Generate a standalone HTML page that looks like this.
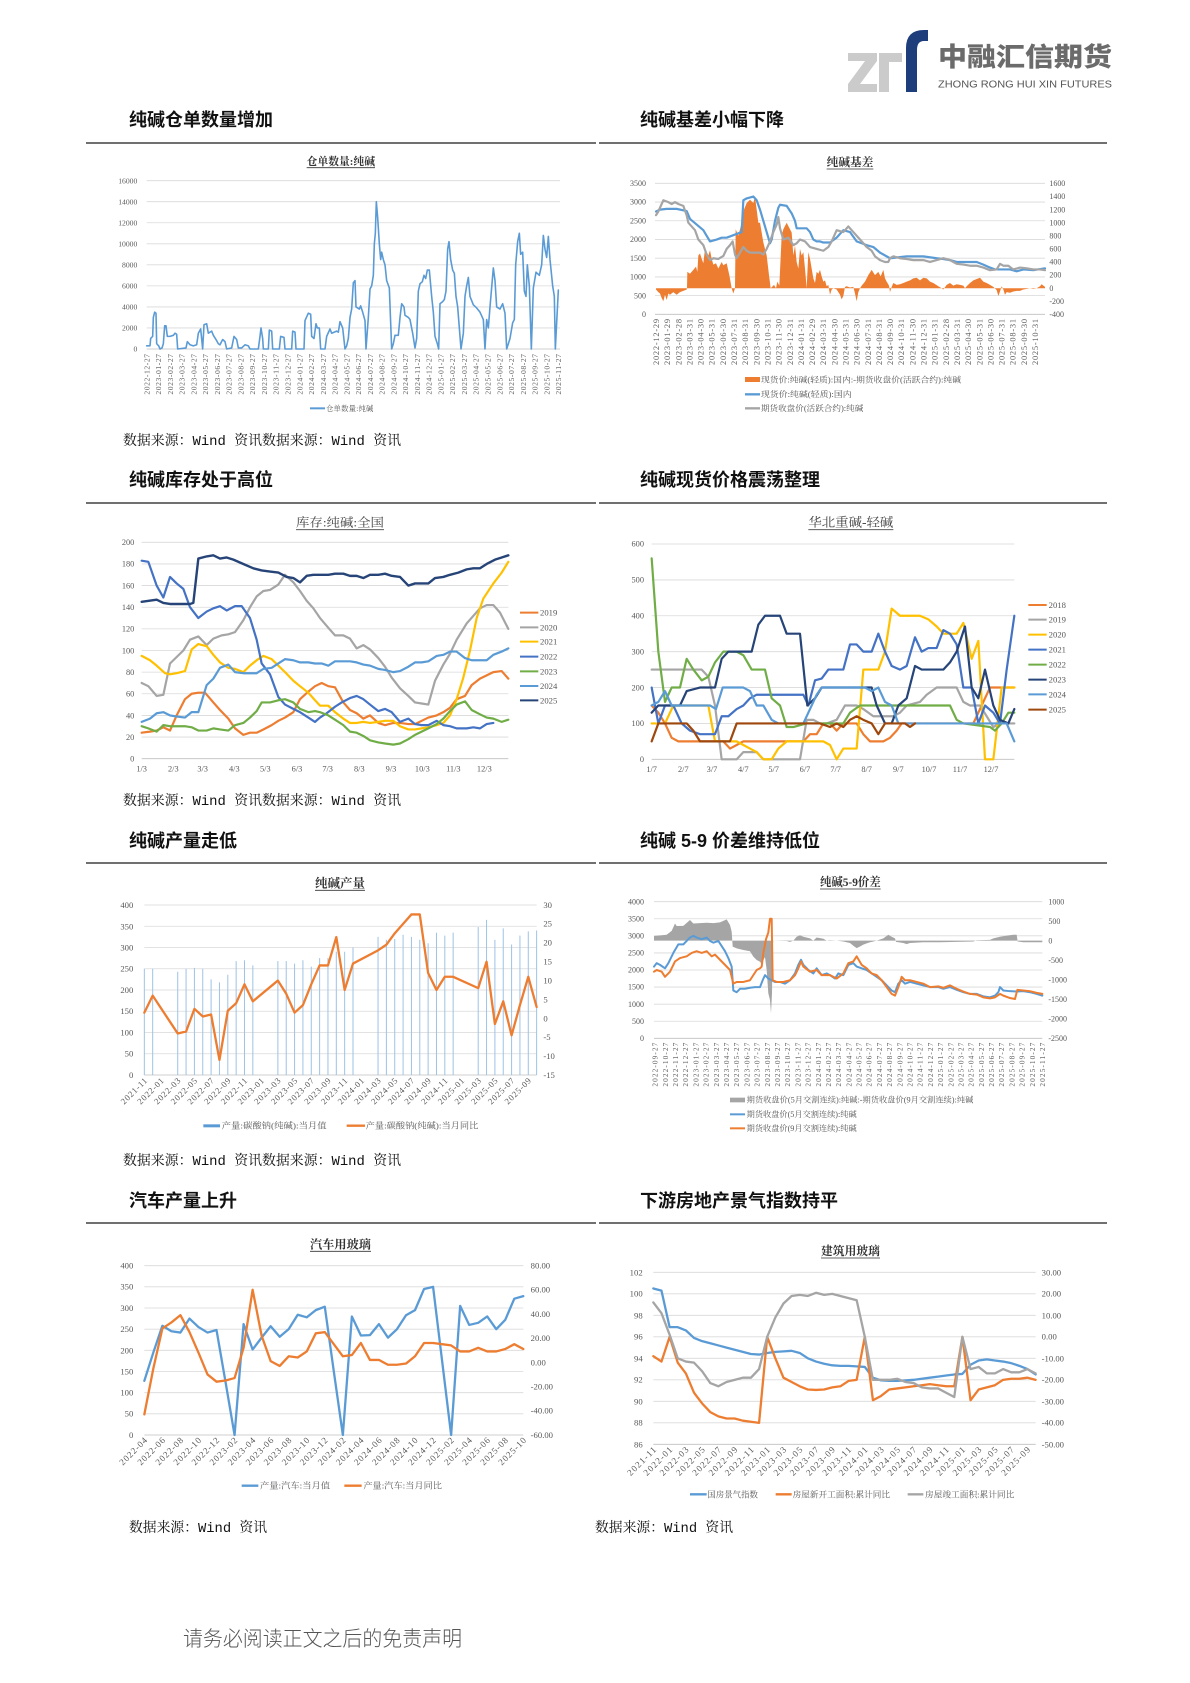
<!DOCTYPE html>
<html><head><meta charset="utf-8"><style>
html,body{margin:0;padding:0;background:#fff;}
svg{display:block;}
.t{font-family:"Liberation Serif","Noto Serif CJK SC",serif;fill:#595959;}
.ttl{font-family:"Liberation Serif","Noto Serif CJK SC",serif;fill:#333;font-weight:bold;}
.ttn{font-family:"Liberation Serif","Noto Serif CJK SC",serif;fill:#444;}
.sec{font-family:"Liberation Sans","Noto Sans CJK SC",sans-serif;font-weight:bold;fill:#111;font-size:18px;}
.src{font-family:"Liberation Mono","Noto Serif CJK SC",serif;fill:#111;font-size:14px;}
.gl{stroke:#d9d9d9;stroke-width:2.5;}
.ln{fill:none;stroke-linejoin:round;stroke-linecap:round;}
</style></head><body>
<svg width="1190" height="1683" viewBox="0 0 1190 1683" xmlns="http://www.w3.org/2000/svg">
<rect width="1190" height="1683" fill="#fff"/>

<!-- LOGO -->
<polygon points="848,53 877,53 877,61 860,84 877,84 877,92 848,92 848,84 865,61 848,61" fill="#cbcbcb"/>
<rect x="879" y="53" width="10" height="39" fill="#cbcbcb"/>
<rect x="889" y="53" width="13" height="9" fill="#cbcbcb"/>
<path d="M906,92 V48 Q906,30 924,30 H928 V41 H924 Q917,41 917,50 V92 Z" fill="#1e3e7b"/>
<text x="938" y="66" font-family="Liberation Sans,'Noto Sans CJK SC',sans-serif" font-weight="900" font-size="26" fill="#6b6b6b" textLength="174" lengthAdjust="spacingAndGlyphs">中融汇信期货</text>
<text x="938" y="87.5" font-family="Liberation Sans,sans-serif" font-size="9.8" fill="#555" textLength="174" lengthAdjust="spacingAndGlyphs">ZHONG RONG HUI XIN FUTURES</text>

<!-- SECTION TITLES & RULES -->
<text class="sec" x="129" y="126">纯碱仓单数量增加</text>
<text class="sec" x="640" y="126">纯碱基差小幅下降</text>
<line x1="86" y1="143" x2="596" y2="143" stroke="#404040" stroke-width="1.4"/>
<line x1="599" y1="143" x2="1107" y2="143" stroke="#404040" stroke-width="1.4"/>
<text class="sec" x="129" y="486">纯碱库存处于高位</text>
<text class="sec" x="640" y="486">纯碱现货价格震荡整理</text>
<line x1="86" y1="503" x2="596" y2="503" stroke="#404040" stroke-width="1.4"/>
<line x1="599" y1="503" x2="1107" y2="503" stroke="#404040" stroke-width="1.4"/>
<text class="sec" x="129" y="847">纯碱产量走低</text>
<text class="sec" x="640" y="847">纯碱 5-9 价差维持低位</text>
<line x1="86" y1="863" x2="596" y2="863" stroke="#404040" stroke-width="1.4"/>
<line x1="599" y1="863" x2="1107" y2="863" stroke="#404040" stroke-width="1.4"/>
<text class="sec" x="129" y="1207">汽车产量上升</text>
<text class="sec" x="640" y="1207">下游房地产景气指数持平</text>
<line x1="86" y1="1223" x2="596" y2="1223" stroke="#404040" stroke-width="1.4"/>
<line x1="599" y1="1223" x2="1107" y2="1223" stroke="#404040" stroke-width="1.4"/>

<!-- SOURCES -->
<text class="src" x="123" y="445" textLength="278" lengthAdjust="spacingAndGlyphs">数据来源：Wind 资讯数据来源：Wind 资讯</text>
<text class="src" x="123" y="805" textLength="278" lengthAdjust="spacingAndGlyphs">数据来源：Wind 资讯数据来源：Wind 资讯</text>
<text class="src" x="123" y="1165" textLength="278" lengthAdjust="spacingAndGlyphs">数据来源：Wind 资讯数据来源：Wind 资讯</text>
<text class="src" x="129" y="1532" textLength="138" lengthAdjust="spacingAndGlyphs">数据来源：Wind 资讯</text>
<text class="src" x="595" y="1532" textLength="138" lengthAdjust="spacingAndGlyphs">数据来源：Wind 资讯</text>

<text x="183" y="1646" font-family="'Noto Sans CJK SC',sans-serif" font-weight="300" font-size="21" fill="#555" textLength="279" lengthAdjust="spacingAndGlyphs">请务必阅读正文之后的免责声明</text>

<!-- ============ CHART 1 ============ -->
<g transform="translate(80,150) scale(0.333333)">
<text class="ttl" x="680" y="45" font-size="32" textLength="205" lengthAdjust="spacingAndGlyphs">仓单数量:纯碱</text>
<line x1="680" y1="53" x2="885" y2="53" stroke="#333" stroke-width="2.5"/>
<g class="gl">
<line x1="200" y1="92" x2="1440" y2="92"/><line x1="200" y1="155.1" x2="1440" y2="155.1"/><line x1="200" y1="218.25" x2="1440" y2="218.25"/><line x1="200" y1="281.4" x2="1440" y2="281.4"/><line x1="200" y1="344.5" x2="1440" y2="344.5"/><line x1="200" y1="407.6" x2="1440" y2="407.6"/><line x1="200" y1="470.75" x2="1440" y2="470.75"/><line x1="200" y1="533.9" x2="1440" y2="533.9"/><line x1="200" y1="597" x2="1440" y2="597" stroke="#bfbfbf"/>
</g>
<g class="t" font-size="23" text-anchor="end">
<text x="172" y="100">16000</text><text x="172" y="163">14000</text><text x="172" y="226">12000</text><text x="172" y="289">10000</text><text x="172" y="352">8000</text><text x="172" y="415">6000</text><text x="172" y="479">4000</text><text x="172" y="542">2000</text><text x="172" y="605">0</text>
</g>
<g class="t" font-size="23" text-anchor="end">
<text transform="translate(208,612) rotate(-90)" textLength="122">2022-12-27</text>
<text transform="translate(243.3,612) rotate(-90)" textLength="122">2023-01-27</text>
<text transform="translate(278.6,612) rotate(-90)" textLength="122">2023-02-27</text>
<text transform="translate(313.9,612) rotate(-90)" textLength="122">2023-03-27</text>
<text transform="translate(349.2,612) rotate(-90)" textLength="122">2023-04-27</text>
<text transform="translate(384.4,612) rotate(-90)" textLength="122">2023-05-27</text>
<text transform="translate(419.7,612) rotate(-90)" textLength="122">2023-06-27</text>
<text transform="translate(455,612) rotate(-90)" textLength="122">2023-07-27</text>
<text transform="translate(490.3,612) rotate(-90)" textLength="122">2023-08-27</text>
<text transform="translate(525.6,612) rotate(-90)" textLength="122">2023-09-27</text>
<text transform="translate(560.9,612) rotate(-90)" textLength="122">2023-10-27</text>
<text transform="translate(596.2,612) rotate(-90)" textLength="122">2023-11-27</text>
<text transform="translate(631.5,612) rotate(-90)" textLength="122">2023-12-27</text>
<text transform="translate(666.8,612) rotate(-90)" textLength="122">2024-01-27</text>
<text transform="translate(702.1,612) rotate(-90)" textLength="122">2024-02-27</text>
<text transform="translate(737.4,612) rotate(-90)" textLength="122">2024-03-27</text>
<text transform="translate(772.6,612) rotate(-90)" textLength="122">2024-04-27</text>
<text transform="translate(807.9,612) rotate(-90)" textLength="122">2024-05-27</text>
<text transform="translate(843.2,612) rotate(-90)" textLength="122">2024-06-27</text>
<text transform="translate(878.5,612) rotate(-90)" textLength="122">2024-07-27</text>
<text transform="translate(913.8,612) rotate(-90)" textLength="122">2024-08-27</text>
<text transform="translate(949.1,612) rotate(-90)" textLength="122">2024-09-27</text>
<text transform="translate(984.4,612) rotate(-90)" textLength="122">2024-10-27</text>
<text transform="translate(1019.7,612) rotate(-90)" textLength="122">2024-11-27</text>
<text transform="translate(1055,612) rotate(-90)" textLength="122">2024-12-27</text>
<text transform="translate(1090.3,612) rotate(-90)" textLength="122">2025-01-27</text>
<text transform="translate(1125.6,612) rotate(-90)" textLength="122">2025-02-27</text>
<text transform="translate(1160.9,612) rotate(-90)" textLength="122">2025-03-27</text>
<text transform="translate(1196.2,612) rotate(-90)" textLength="122">2025-04-27</text>
<text transform="translate(1231.5,612) rotate(-90)" textLength="122">2025-05-27</text>
<text transform="translate(1266.8,612) rotate(-90)" textLength="122">2025-06-27</text>
<text transform="translate(1302.1,612) rotate(-90)" textLength="122">2025-07-27</text>
<text transform="translate(1337.3,612) rotate(-90)" textLength="122">2025-08-27</text>
<text transform="translate(1372.6,612) rotate(-90)" textLength="122">2025-09-27</text>
<text transform="translate(1407.9,612) rotate(-90)" textLength="122">2025-10-27</text>
<text transform="translate(1443.2,612) rotate(-90)" textLength="122">2025-11-27</text>
</g>
<g transform="translate(0,597) scale(1,-0.0315625)">
<polyline class="ln" vector-effect="non-scaling-stroke" stroke="#5b9bd5" stroke-width="1.6" points="200,300 210,300 212,1000 218,1200 220,3000 224,3500 228,3400 230,500 236,300 240,0 246,100 250,500 254,2200 258,2200 262,1200 270,1200 280,1300 285,1500 290,1400 293,0 318,100 322,700 330,400 340,300 350,400 355,1500 362,1900 368,0 372,2300 380,2400 385,1500 395,1700 400,1300 408,900 415,500 420,400 428,900 435,700 440,0 455,100 462,1200 470,900 475,100 485,100 495,400 505,300 510,0 535,0 540,1200 543,2000 548,1000 550,0 565,0 568,1800 575,1700 578,0 598,0 602,1200 612,1100 615,0 635,0 638,1700 645,1600 648,0 672,0 675,2700 685,3400 692,3300 695,1200 702,1000 708,2400 712,2000 718,2000 722,0 735,0 740,1200 750,1900 755,1500 770,1700 775,1600 780,2600 788,2000 795,0 800,300 805,1000 810,3000 815,3800 820,6300 825,6500 828,4000 838,3800 842,4100 848,3500 855,2700 858,0 865,3000 870,5700 875,6000 880,7000 883,10000 886,11000 889,14000 893,12500 898,10000 902,8500 905,9200 910,8500 915,8000 920,6500 928,5800 935,0 940,500 945,1300 955,1300 960,3000 965,4300 972,4000 975,3200 985,3000 990,2800 998,1500 1005,100 1010,1000 1015,5500 1020,6200 1027,6400 1032,7000 1037,6700 1042,7500 1048,7500 1055,5000 1060,3500 1065,1200 1072,500 1076,0 1080,4300 1088,4500 1093,4700 1098,5500 1103,9500 1107,10200 1112,8500 1118,7500 1123,7200 1128,5000 1133,4000 1138,2000 1143,0 1150,1500 1155,5000 1160,6000 1165,6800 1170,5000 1180,4200 1190,3900 1200,3500 1210,2800 1215,0 1220,2800 1225,2000 1230,4000 1240,7700 1245,6500 1250,4000 1260,3800 1268,4300 1275,3400 1280,0 1290,1000 1298,2500 1303,2800 1307,8000 1313,10200 1318,11000 1322,9000 1328,9200 1333,5500 1338,5000 1342,8000 1348,6000 1354,0 1360,5800 1368,7300 1378,7000 1385,8000 1390,10800 1395,9500 1400,8700 1405,10700 1410,8500 1418,6000 1423,5000 1426,0 1430,2500 1435,5600"/>
</g>
<line x1="690" y1="775" x2="735" y2="775" stroke="#5b9bd5" stroke-width="6"/>
<text class="t" x="738" y="783" font-size="22" textLength="142">仓单数量:纯碱</text>
</g>

<!-- ============ CHART 2 ============ -->
<g transform="translate(590,150) scale(0.333333)">
<text class="ttl" x="710" y="48" font-size="34" textLength="140" lengthAdjust="spacingAndGlyphs">纯碱基差</text>
<line x1="710" y1="57" x2="850" y2="57" stroke="#333" stroke-width="2.5"/>
<g class="gl">
<line x1="195" y1="100" x2="1365" y2="100"/><line x1="195" y1="156.1" x2="1365" y2="156.1"/><line x1="195" y1="212.3" x2="1365" y2="212.3"/><line x1="195" y1="268.4" x2="1365" y2="268.4"/><line x1="195" y1="324.6" x2="1365" y2="324.6"/><line x1="195" y1="380.7" x2="1365" y2="380.7"/><line x1="195" y1="436.9" x2="1365" y2="436.9"/><line x1="195" y1="493" x2="1365" y2="493" stroke="#bfbfbf"/>
</g>
<g class="t" font-size="24" text-anchor="end">
<text x="168" y="108">3500</text><text x="168" y="164">3000</text><text x="168" y="220">2500</text><text x="168" y="276">2000</text><text x="168" y="333">1500</text><text x="168" y="389">1000</text><text x="168" y="445">500</text><text x="168" y="501">0</text>
</g>
<g class="t" font-size="24">
<text x="1378" y="108">1600</text><text x="1378" y="147">1400</text><text x="1378" y="187">1200</text><text x="1378" y="226">1000</text><text x="1378" y="265">800</text><text x="1378" y="305">600</text><text x="1378" y="344">400</text><text x="1378" y="383">200</text><text x="1378" y="423">0</text><text x="1378" y="462">-200</text><text x="1378" y="501">-400</text>
</g>
<g class="t" font-size="25" text-anchor="end">
<text transform="translate(207,507) rotate(-90)" textLength="138">2022-12-29</text>
<text transform="translate(240.4,507) rotate(-90)" textLength="138">2023-01-29</text>
<text transform="translate(273.9,507) rotate(-90)" textLength="138">2023-02-28</text>
<text transform="translate(307.3,507) rotate(-90)" textLength="138">2023-03-31</text>
<text transform="translate(340.8,507) rotate(-90)" textLength="138">2023-04-30</text>
<text transform="translate(374.2,507) rotate(-90)" textLength="138">2023-05-31</text>
<text transform="translate(407.6,507) rotate(-90)" textLength="138">2023-06-30</text>
<text transform="translate(441.1,507) rotate(-90)" textLength="138">2023-07-31</text>
<text transform="translate(474.5,507) rotate(-90)" textLength="138">2023-08-31</text>
<text transform="translate(508,507) rotate(-90)" textLength="138">2023-09-30</text>
<text transform="translate(541.4,507) rotate(-90)" textLength="138">2023-10-31</text>
<text transform="translate(574.8,507) rotate(-90)" textLength="138">2023-11-30</text>
<text transform="translate(608.3,507) rotate(-90)" textLength="138">2023-12-31</text>
<text transform="translate(641.7,507) rotate(-90)" textLength="138">2024-01-31</text>
<text transform="translate(675.2,507) rotate(-90)" textLength="138">2024-02-29</text>
<text transform="translate(708.6,507) rotate(-90)" textLength="138">2024-03-31</text>
<text transform="translate(742,507) rotate(-90)" textLength="138">2024-04-30</text>
<text transform="translate(775.5,507) rotate(-90)" textLength="138">2024-05-31</text>
<text transform="translate(808.9,507) rotate(-90)" textLength="138">2024-06-30</text>
<text transform="translate(842.4,507) rotate(-90)" textLength="138">2024-07-31</text>
<text transform="translate(875.8,507) rotate(-90)" textLength="138">2024-08-31</text>
<text transform="translate(909.2,507) rotate(-90)" textLength="138">2024-09-30</text>
<text transform="translate(942.7,507) rotate(-90)" textLength="138">2024-10-31</text>
<text transform="translate(976.1,507) rotate(-90)" textLength="138">2024-11-30</text>
<text transform="translate(1009.6,507) rotate(-90)" textLength="138">2024-12-31</text>
<text transform="translate(1043,507) rotate(-90)" textLength="138">2025-01-31</text>
<text transform="translate(1076.4,507) rotate(-90)" textLength="138">2025-02-28</text>
<text transform="translate(1109.9,507) rotate(-90)" textLength="138">2025-03-31</text>
<text transform="translate(1143.3,507) rotate(-90)" textLength="138">2025-04-30</text>
<text transform="translate(1176.8,507) rotate(-90)" textLength="138">2025-05-31</text>
<text transform="translate(1210.2,507) rotate(-90)" textLength="138">2025-06-30</text>
<text transform="translate(1243.6,507) rotate(-90)" textLength="138">2025-07-31</text>
<text transform="translate(1277.1,507) rotate(-90)" textLength="138">2025-08-31</text>
<text transform="translate(1310.5,507) rotate(-90)" textLength="138">2025-09-30</text>
<text transform="translate(1344,507) rotate(-90)" textLength="138">2025-10-31</text>
</g>
<g transform="translate(0,414.6) scale(1,-0.1965)">
<polygon fill="#ed7d31" points="198,0 198,-20 205,-60 210,-80 215,-150 220,-200 225,-100 230,-180 235,-80 240,-100 250,-60 260,-100 270,-60 280,-40 290,-20 291,0 292,250 300,220 310,280 318,330 322,250 325,500 330,530 335,450 340,380 345,600 350,550 355,500 360,580 365,450 370,360 378,380 385,300 395,400 400,350 410,380 418,200 425,0 430,-80 435,0 437,900 445,800 455,1000 462,1200 470,1300 480,1350 490,1300 495,1400 500,1200 505,1000 510,1000 520,700 530,500 537,200 542,0 548,30 552,50 558,0 562,100 568,40 575,800 580,900 590,1000 600,900 605,850 610,500 615,650 620,400 625,300 630,600 635,500 640,550 645,300 650,0 655,550 660,450 665,300 670,150 675,80 680,250 685,220 690,280 695,180 700,100 705,120 710,30 715,50 720,-100 725,-20 730,0 740,-20 750,-100 755,-170 760,-120 765,20 770,30 780,10 790,20 795,-80 800,-200 805,-60 810,0 815,40 825,100 835,200 845,280 855,200 865,250 872,180 880,280 885,150 890,100 897,40 900,-60 905,20 910,80 920,50 930,60 940,80 950,100 960,120 970,150 980,160 990,120 1000,160 1010,150 1020,100 1030,80 1045,30 1055,0 1060,-20 1070,50 1080,80 1090,40 1100,60 1110,50 1120,40 1125,0 1130,30 1140,80 1150,120 1160,140 1170,160 1180,100 1190,80 1200,50 1210,20 1220,-30 1225,-120 1230,-50 1235,30 1240,-20 1245,-100 1250,-60 1260,-70 1270,-50 1280,-40 1290,-40 1300,-20 1310,-10 1320,0 1330,-10 1340,0 1350,30 1355,60 1360,40 1365,20 1365,0"/>
</g>
<g transform="translate(0,493) scale(1,-0.1122)">
<polyline class="ln" vector-effect="non-scaling-stroke" stroke="#5b9bd5" stroke-width="2.2" points="198,2750 210,2800 230,2820 260,2820 290,2760 300,2550 320,2400 340,2250 360,1950 380,2000 395,2050 410,2050 425,2100 440,2150 455,2200 460,3050 470,3100 490,3150 500,3050 510,2800 520,2500 530,2200 540,1900 545,2000 555,2500 565,2850 570,2930 590,2900 605,2700 615,2500 620,2300 630,2300 650,2300 660,2200 670,2000 680,1950 690,1950 700,1920 720,1920 740,2050 760,2250 780,2200 800,1950 830,1850 850,1800 870,1650 890,1550 900,1500 920,1520 950,1550 1000,1550 1040,1500 1060,1480 1080,1450 1100,1400 1130,1400 1160,1400 1180,1330 1200,1250 1215,1200 1230,1200 1260,1200 1280,1150 1300,1200 1330,1180 1365,1230"/>
<polyline class="ln" vector-effect="non-scaling-stroke" stroke="#a5a5a5" stroke-width="2.2" points="198,2650 205,2750 215,2950 220,3050 235,3000 245,2950 255,3000 265,2950 280,2900 290,2650 295,2450 305,2350 315,2250 325,2000 340,1850 350,1600 360,1450 370,1500 385,1480 400,1560 410,1750 420,1850 428,1950 435,1600 440,1500 450,1650 460,1800 470,1700 480,1650 495,1650 510,1650 520,1600 530,1750 540,1950 550,2200 560,2400 565,2600 570,2300 580,2000 595,2050 610,1850 620,1900 630,2000 645,1950 660,1800 680,1750 700,1700 715,1800 725,1950 740,2250 760,2200 775,2350 790,2200 810,2000 830,1800 845,1700 855,1550 870,1450 885,1400 895,1400 900,1500 910,1550 930,1500 950,1480 970,1450 1000,1450 1020,1400 1040,1450 1060,1500 1080,1450 1100,1350 1120,1330 1140,1300 1160,1300 1180,1250 1200,1180 1220,1200 1230,1350 1240,1300 1255,1300 1270,1200 1290,1250 1310,1230 1330,1200 1350,1200 1365,1180"/>
</g>
<rect x="465" y="681" width="45" height="15" fill="#ed7d31"/>
<text class="t" x="513" y="697" font-size="24" textLength="600" lengthAdjust="spacingAndGlyphs">现货价:纯碱(轻质):国内:-期货收盘价(活跃合约):纯碱</text>
<line x1="465" y1="733" x2="510" y2="733" stroke="#5b9bd5" stroke-width="7"/>
<text class="t" x="513" y="741" font-size="24" textLength="272" lengthAdjust="spacingAndGlyphs">现货价:纯碱(轻质):国内</text>
<line x1="465" y1="775" x2="510" y2="775" stroke="#a5a5a5" stroke-width="7"/>
<text class="t" x="513" y="783" font-size="24" textLength="307" lengthAdjust="spacingAndGlyphs">期货收盘价(活跃合约):纯碱</text>
</g>

<!-- ============ CHART 3 ============ -->
<g transform="translate(80,500) scale(0.333333)">
<text class="ttn" x="648" y="80" font-size="36" textLength="264" lengthAdjust="spacingAndGlyphs">库存:纯碱:全国</text>
<line x1="648" y1="89" x2="912" y2="89" stroke="#444" stroke-width="2.5"/>
<g class="gl">
<line x1="185" y1="127" x2="1285" y2="127"/><line x1="185" y1="191.9" x2="1285" y2="191.9"/><line x1="185" y1="256.8" x2="1285" y2="256.8"/><line x1="185" y1="321.7" x2="1285" y2="321.7"/><line x1="185" y1="386.6" x2="1285" y2="386.6"/><line x1="185" y1="451.5" x2="1285" y2="451.5"/><line x1="185" y1="516.4" x2="1285" y2="516.4"/><line x1="185" y1="581.3" x2="1285" y2="581.3"/><line x1="185" y1="646.2" x2="1285" y2="646.2"/><line x1="185" y1="711.1" x2="1285" y2="711.1"/><line x1="185" y1="776" x2="1285" y2="776" stroke="#bfbfbf"/>
</g>
<g class="t" font-size="25" text-anchor="end">
<text x="163" y="135">200</text><text x="163" y="200">180</text><text x="163" y="265">160</text><text x="163" y="330">140</text><text x="163" y="395">120</text><text x="163" y="460">100</text><text x="163" y="525">80</text><text x="163" y="590">60</text><text x="163" y="655">40</text><text x="163" y="720">20</text><text x="163" y="784">0</text>
</g>
<g class="t" font-size="25" text-anchor="middle">
<text x="185" y="815">1/3</text><text x="280" y="815">2/3</text><text x="368" y="815">3/3</text><text x="463" y="815">4/3</text><text x="556" y="815">5/3</text><text x="651" y="815">6/3</text><text x="743" y="815">7/3</text><text x="838" y="815">8/3</text><text x="933" y="815">9/3</text><text x="1027" y="815">10/3</text><text x="1120" y="815">11/3</text><text x="1213" y="815">12/3</text>
</g>
<g transform="translate(0,776) scale(1,-3.245)">
<polyline class="ln" vector-effect="non-scaling-stroke" stroke="#ed7d31" stroke-width="2.2" points="185,24 210,25 230,26 250,29 270,26 290,40 315,55 335,60 355,61 375,61 400,52 420,45 445,37 465,28 490,22 510,24 530,24 550,27 575,31 595,35 615,38 640,43 660,55 685,62 705,67 725,70 745,67 765,66 790,52 810,45 830,42 850,37 870,40 895,33 915,31 940,33 960,33 985,32 1005,32 1025,35 1045,38 1070,40 1090,43 1110,47 1130,55 1155,58 1175,68 1200,74 1220,77 1240,80 1265,81 1285,74"/>
<polyline class="ln" vector-effect="non-scaling-stroke" stroke="#a5a5a5" stroke-width="2.2" points="185,70 205,67 230,58 250,59 270,88 290,94 310,100 330,110 355,113 380,105 400,111 425,114 445,115 465,117 490,128 510,140 530,150 550,155 570,156 595,161 615,170 640,163 660,155 680,146 700,139 720,130 745,121 765,114 790,114 810,111 830,102 850,105 870,101 895,93 915,85 935,75 960,65 985,58 1005,52 1025,51 1045,50 1065,72 1090,87 1110,97 1130,110 1160,125 1180,132 1200,139 1220,142 1240,142 1260,135 1285,120"/>
<polyline class="ln" vector-effect="non-scaling-stroke" stroke="#ffc000" stroke-width="2.2" points="185,95 210,91 230,86 255,79 270,78 290,79 315,81 335,101 355,106 380,104 400,96 420,89 445,84 465,83 490,80 510,86 530,91 550,95 575,92 595,86 615,80 640,72 660,67 685,61 705,54 720,49 745,49 765,43 790,37 810,33 830,33 850,34 870,33 895,34 915,35 940,35 960,30 985,27 1005,27 1025,28 1045,29 1070,31 1090,33 1110,40 1130,55 1150,75 1170,100 1190,130 1210,148 1240,162 1265,172 1285,182"/>
<polyline class="ln" vector-effect="non-scaling-stroke" stroke="#4472c4" stroke-width="2.2" points="185,183 205,182 230,160 250,149 270,168 290,162 310,157 330,140 355,130 380,136 400,139 420,141 440,137 465,141 485,141 510,130 530,110 545,88 570,78 595,57 615,50 640,46 660,43 685,38 705,34 720,38 740,42 765,48 785,52 810,56 830,58 850,55 870,50 895,44 915,46 935,43 960,34 985,37 1005,32 1025,31 1045,31 1070,35 1090,31 1110,30 1130,28 1160,28 1180,29 1200,28 1220,32 1240,33"/>
<polyline class="ln" vector-effect="non-scaling-stroke" stroke="#70ad47" stroke-width="2.2" points="185,30 205,28 230,25 250,31 270,30 290,30 315,30 335,29 355,26 380,26 400,28 420,27 445,26 465,31 490,33 510,38 530,44 545,52 570,52 595,54 615,55 640,52 660,46 685,43 705,44 720,43 745,40 765,36 790,31 810,25 830,24 850,21 870,17 895,15 915,14 940,13 960,14 985,18 1005,22 1025,25 1045,28 1070,32 1090,37 1110,44 1130,50 1155,53 1175,45 1200,41 1220,38 1240,37 1265,34 1285,36"/>
<polyline class="ln" vector-effect="non-scaling-stroke" stroke="#5b9bd5" stroke-width="2.2" points="185,34 210,37 230,42 250,43 270,40 290,39 315,38 335,43 355,43 380,68 400,74 420,84 445,87 465,80 490,79 510,79 530,79 550,83 575,84 595,88 615,92 640,91 660,89 685,89 705,88 725,88 745,86 765,90 790,90 810,90 830,89 850,87 870,86 895,83 915,82 940,80 960,81 985,85 1005,89 1025,89 1045,90 1070,95 1090,96 1110,99 1130,99 1155,93 1175,91 1200,91 1220,91 1240,96 1265,99 1285,102"/>
<polyline class="ln" vector-effect="non-scaling-stroke" stroke="#264478" stroke-width="2.4" points="185,145 230,147 250,144 270,143 330,143 340,144 355,185 380,187 400,188 420,185 440,186 460,184 490,180 520,176 545,174 570,173 595,172 620,168 640,167 660,163 680,169 700,170 720,170 745,170 765,171 790,171 810,169 830,169 850,167 870,170 895,170 915,171 935,169 960,168 985,160 1005,162 1025,162 1045,162 1065,167 1090,168 1110,170 1135,172 1160,175 1180,176 1200,176 1220,180 1245,184 1265,186 1285,188"/>
</g>
<g stroke-width="6">
<line x1="1320" y1="338" x2="1375" y2="338" stroke="#ed7d31"/><line x1="1320" y1="382" x2="1375" y2="382" stroke="#a5a5a5"/><line x1="1320" y1="425" x2="1375" y2="425" stroke="#ffc000"/><line x1="1320" y1="470" x2="1375" y2="470" stroke="#4472c4"/><line x1="1320" y1="514" x2="1375" y2="514" stroke="#70ad47"/><line x1="1320" y1="558" x2="1375" y2="558" stroke="#5b9bd5"/><line x1="1320" y1="601" x2="1375" y2="601" stroke="#264478"/>
</g>
<g class="t" font-size="26">
<text x="1380" y="347">2019</text><text x="1380" y="391">2020</text><text x="1380" y="434">2021</text><text x="1380" y="479">2022</text><text x="1380" y="523">2023</text><text x="1380" y="567">2024</text><text x="1380" y="610">2025</text>
</g>
</g>

<!-- ============ CHART 4 ============ -->
<g transform="translate(590,500) scale(0.333333)">
<text class="ttn" x="655" y="80" font-size="38" textLength="255" lengthAdjust="spacingAndGlyphs">华北重碱-轻碱</text>
<line x1="655" y1="89" x2="910" y2="89" stroke="#444" stroke-width="2.5"/>
<g class="gl">
<line x1="185" y1="132" x2="1273" y2="132"/><line x1="185" y1="239.7" x2="1273" y2="239.7"/><line x1="185" y1="347.3" x2="1273" y2="347.3"/><line x1="185" y1="455" x2="1273" y2="455"/><line x1="185" y1="562.7" x2="1273" y2="562.7"/><line x1="185" y1="670.3" x2="1273" y2="670.3"/><line x1="185" y1="778" x2="1273" y2="778" stroke="#bfbfbf"/>
</g>
<g class="t" font-size="25" text-anchor="end">
<text x="162" y="140">600</text><text x="162" y="248">500</text><text x="162" y="355">400</text><text x="162" y="463">300</text><text x="162" y="571">200</text><text x="162" y="678">100</text><text x="162" y="786">0</text>
</g>
<g class="t" font-size="25" text-anchor="middle">
<text x="185" y="816">1/7</text><text x="280" y="816">2/7</text><text x="366" y="816">3/7</text><text x="460" y="816">4/7</text><text x="551" y="816">5/7</text><text x="645" y="816">6/7</text><text x="737" y="816">7/7</text><text x="830" y="816">8/7</text><text x="925" y="816">9/7</text><text x="1017" y="816">10/7</text><text x="1110" y="816">11/7</text><text x="1203" y="816">12/7</text>
</g>
<g transform="translate(0,778) scale(1,-1.077)">
<polyline class="ln" vector-effect="non-scaling-stroke" stroke="#ed7d31" stroke-width="2.2" points="185,150 205,130 225,100 245,60 265,50 330,50 380,50 400,50 420,30 440,40 460,50 500,50 600,50 640,50 660,70 680,70 700,100 720,100 740,80 760,100 800,100 820,70 840,50 880,50 900,60 920,80 935,100 1000,100 1100,100 1150,100 1175,150 1200,200 1230,200 1273,200"/>
<polyline class="ln" vector-effect="non-scaling-stroke" stroke="#a5a5a5" stroke-width="2.2" points="185,250 300,250 335,250 355,230 375,150 395,0 440,0 460,20 500,20 520,0 630,0 650,110 670,110 690,100 710,100 740,110 765,150 800,150 820,140 850,120 890,120 910,120 930,130 950,150 990,160 1010,180 1040,200 1100,200 1120,160 1140,150 1170,150 1190,120 1210,90 1230,100 1273,100"/>
<polyline class="ln" vector-effect="non-scaling-stroke" stroke="#ffc000" stroke-width="2.2" points="185,100 225,100 250,150 275,150 300,150 355,150 365,100 375,50 400,50 440,50 460,40 480,30 500,20 520,0 545,0 565,30 590,50 620,50 650,50 700,50 720,40 740,0 760,30 780,30 800,30 820,250 840,250 865,250 885,300 905,420 930,400 960,400 990,400 1015,390 1040,370 1060,350 1080,350 1100,350 1120,380 1145,280 1165,330 1185,0 1210,0 1235,200 1273,200"/>
<polyline class="ln" vector-effect="non-scaling-stroke" stroke="#4472c4" stroke-width="2.2" points="185,200 205,100 225,150 250,150 275,100 300,80 330,70 355,70 375,70 395,120 415,120 440,140 460,150 480,170 500,180 540,180 600,180 640,180 655,150 675,220 695,225 715,250 740,250 760,250 780,320 800,320 820,300 845,300 865,350 885,300 905,260 930,250 950,260 975,340 995,300 1015,310 1040,310 1060,360 1080,350 1100,320 1120,200 1145,200 1165,100 1185,150 1210,130 1230,100 1250,250 1273,400"/>
<polyline class="ln" vector-effect="non-scaling-stroke" stroke="#70ad47" stroke-width="2.2" points="185,560 205,300 225,160 245,200 270,200 290,280 310,250 335,220 355,230 375,270 400,300 420,300 440,300 460,290 485,250 505,250 525,250 545,170 570,150 590,90 610,90 630,95 650,100 680,100 700,100 720,100 740,100 760,100 780,130 810,150 860,150 900,150 1000,150 1080,150 1100,110 1120,100 1200,90 1215,80 1235,100 1255,130 1273,130"/>
<polyline class="ln" vector-effect="non-scaling-stroke" stroke="#264478" stroke-width="2.2" points="185,130 205,150 225,150 250,150 270,150 290,190 310,195 330,200 355,200 375,200 395,280 415,300 440,300 485,300 505,375 525,400 570,400 590,350 630,350 652,150 675,170 695,200 720,200 760,200 800,200 845,200 860,150 885,100 905,100 925,150 950,170 975,260 995,250 1020,250 1060,250 1080,270 1100,300 1125,370 1145,200 1165,170 1185,250 1210,150 1230,110 1255,100 1273,140"/>
<polyline class="ln" vector-effect="non-scaling-stroke" stroke="#5b9bd5" stroke-width="2.2" points="185,150 205,160 225,190 245,150 265,150 300,150 340,150 360,150 378,140 398,200 440,200 460,200 480,190 500,150 520,150 545,110 565,100 610,100 640,100 655,130 680,180 695,200 720,200 800,200 825,200 845,190 865,200 885,160 905,150 925,100 960,100 1000,100 1100,100 1200,100 1250,100 1273,50"/>
<polyline class="ln" vector-effect="non-scaling-stroke" stroke="#9e480e" stroke-width="2.2" points="185,50 205,100 225,100 290,100 310,80 330,50 400,50 420,50 440,100 500,100 640,100 690,100 720,90 740,100 760,90 780,110 800,120 820,110 845,100 865,70 885,100 925,100 945,100 960,90 975,100"/>
</g>
<g stroke-width="6">
<line x1="1315" y1="315" x2="1370" y2="315" stroke="#ed7d31"/><line x1="1315" y1="359" x2="1370" y2="359" stroke="#a5a5a5"/><line x1="1315" y1="404" x2="1370" y2="404" stroke="#ffc000"/><line x1="1315" y1="449" x2="1370" y2="449" stroke="#4472c4"/><line x1="1315" y1="494" x2="1370" y2="494" stroke="#70ad47"/><line x1="1315" y1="539" x2="1370" y2="539" stroke="#264478"/><line x1="1315" y1="583" x2="1370" y2="583" stroke="#5b9bd5"/><line x1="1315" y1="629" x2="1370" y2="629" stroke="#9e480e"/>
</g>
<g class="t" font-size="26">
<text x="1376" y="324">2018</text><text x="1376" y="368">2019</text><text x="1376" y="413">2020</text><text x="1376" y="458">2021</text><text x="1376" y="503">2022</text><text x="1376" y="548">2023</text><text x="1376" y="592">2024</text><text x="1376" y="638">2025</text>
</g>
</g>

<!-- ============ CHART 5 ============ -->
<g transform="translate(80,860) scale(0.333333)">
<text class="ttl" x="705" y="82" font-size="37" textLength="150" lengthAdjust="spacingAndGlyphs">纯碱产量</text>
<line x1="705" y1="91" x2="855" y2="91" stroke="#333" stroke-width="2.5"/>
<g class="gl">
<line x1="193" y1="135" x2="1370" y2="135"/><line x1="193" y1="198.75" x2="1370" y2="198.75"/><line x1="193" y1="262.5" x2="1370" y2="262.5"/><line x1="193" y1="326.25" x2="1370" y2="326.25"/><line x1="193" y1="390" x2="1370" y2="390"/><line x1="193" y1="453.75" x2="1370" y2="453.75"/><line x1="193" y1="517.5" x2="1370" y2="517.5"/><line x1="193" y1="581.25" x2="1370" y2="581.25"/><line x1="193" y1="645" x2="1370" y2="645" stroke="#bfbfbf"/>
</g>
<g class="t" font-size="26" text-anchor="end">
<text x="160" y="144">400</text><text x="160" y="208">350</text><text x="160" y="271">300</text><text x="160" y="335">250</text><text x="160" y="399">200</text><text x="160" y="462">150</text><text x="160" y="526">100</text><text x="160" y="590">50</text><text x="160" y="654">0</text>
</g>
<g class="t" font-size="26">
<text x="1390" y="144">30</text><text x="1390" y="200">25</text><text x="1390" y="257">20</text><text x="1390" y="314">15</text><text x="1390" y="370">10</text><text x="1390" y="427">5</text><text x="1390" y="484">0</text><text x="1390" y="540">-5</text><text x="1390" y="597">-10</text><text x="1390" y="654">-15</text>
</g>
<g transform="translate(193,645) scale(25.04,-1.275)" fill="#9dc3e6">
<rect x="-0.06" y="0" width="0.12" height="250"/><rect x="0.94" y="0" width="0.12" height="250"/><rect x="3.94" y="0" width="0.12" height="243"/><rect x="4.94" y="0" width="0.12" height="250"/><rect x="5.94" y="0" width="0.12" height="252"/><rect x="6.94" y="0" width="0.12" height="250"/><rect x="7.94" y="0" width="0.12" height="225"/><rect x="8.94" y="0" width="0.12" height="218"/><rect x="9.94" y="0" width="0.12" height="236"/><rect x="10.94" y="0" width="0.12" height="268"/><rect x="11.94" y="0" width="0.12" height="270"/><rect x="12.94" y="0" width="0.12" height="258"/><rect x="15.94" y="0" width="0.12" height="268"/><rect x="16.94" y="0" width="0.12" height="268"/><rect x="17.94" y="0" width="0.12" height="262"/><rect x="18.94" y="0" width="0.12" height="270"/><rect x="19.94" y="0" width="0.12" height="255"/><rect x="20.94" y="0" width="0.12" height="275"/><rect x="21.94" y="0" width="0.12" height="275"/><rect x="22.94" y="0" width="0.12" height="290"/><rect x="23.94" y="0" width="0.12" height="290"/><rect x="24.94" y="0" width="0.12" height="300"/><rect x="27.94" y="0" width="0.12" height="325"/><rect x="28.94" y="0" width="0.12" height="318"/><rect x="29.94" y="0" width="0.12" height="320"/><rect x="30.94" y="0" width="0.12" height="330"/><rect x="31.94" y="0" width="0.12" height="325"/><rect x="32.94" y="0" width="0.12" height="318"/><rect x="33.94" y="0" width="0.12" height="310"/><rect x="34.94" y="0" width="0.12" height="335"/><rect x="35.94" y="0" width="0.12" height="328"/><rect x="36.94" y="0" width="0.12" height="335"/><rect x="39.94" y="0" width="0.12" height="348"/><rect x="40.94" y="0" width="0.12" height="365"/><rect x="41.94" y="0" width="0.12" height="318"/><rect x="42.94" y="0" width="0.12" height="345"/><rect x="43.94" y="0" width="0.12" height="307"/><rect x="44.94" y="0" width="0.12" height="328"/><rect x="45.94" y="0" width="0.12" height="338"/><rect x="46.94" y="0" width="0.12" height="340"/>
</g>
<g transform="translate(193,475) scale(25.04,-11.333)">
<polyline class="ln" vector-effect="non-scaling-stroke" stroke="#ed7d31" stroke-width="2.3" points="0,1.5 1,6 4,-4 5,-3.5 6,2.5 7,0.5 8,1 9,-11 10,2 11,4 12,9 13,4.5 16,10 17,6.5 18,1.5 19,3.5 20,9 21,14 22,14 23,21.5 24,7.5 25,14.5 28,18 29,19.5 30,22.5 31,25 32,27.5 33,27.5 34,12 35,7.5 36,11 37,11 40,8 41,15 42,-1.5 43,4.5 44,-4.5 45,3.5 46,11 47,3"/>
</g>
<g class="t" font-size="26" text-anchor="end">
<text transform="translate(203,664) rotate(-45)" textLength="100">2021-11</text>
<text transform="translate(253.1,664) rotate(-45)" textLength="100">2022-01</text>
<text transform="translate(303.2,664) rotate(-45)" textLength="100">2022-03</text>
<text transform="translate(353.2,664) rotate(-45)" textLength="100">2022-05</text>
<text transform="translate(403.3,664) rotate(-45)" textLength="100">2022-07</text>
<text transform="translate(453.4,664) rotate(-45)" textLength="100">2022-09</text>
<text transform="translate(503.5,664) rotate(-45)" textLength="100">2022-11</text>
<text transform="translate(553.6,664) rotate(-45)" textLength="100">2023-01</text>
<text transform="translate(603.6,664) rotate(-45)" textLength="100">2023-03</text>
<text transform="translate(653.7,664) rotate(-45)" textLength="100">2023-05</text>
<text transform="translate(703.8,664) rotate(-45)" textLength="100">2023-07</text>
<text transform="translate(753.9,664) rotate(-45)" textLength="100">2023-09</text>
<text transform="translate(804,664) rotate(-45)" textLength="100">2023-11</text>
<text transform="translate(854,664) rotate(-45)" textLength="100">2024-01</text>
<text transform="translate(904.1,664) rotate(-45)" textLength="100">2024-03</text>
<text transform="translate(954.2,664) rotate(-45)" textLength="100">2024-05</text>
<text transform="translate(1004.3,664) rotate(-45)" textLength="100">2024-07</text>
<text transform="translate(1054.4,664) rotate(-45)" textLength="100">2024-09</text>
<text transform="translate(1104.4,664) rotate(-45)" textLength="100">2024-11</text>
<text transform="translate(1154.5,664) rotate(-45)" textLength="100">2025-01</text>
<text transform="translate(1204.6,664) rotate(-45)" textLength="100">2025-03</text>
<text transform="translate(1254.7,664) rotate(-45)" textLength="100">2025-05</text>
<text transform="translate(1304.8,664) rotate(-45)" textLength="100">2025-07</text>
<text transform="translate(1354.8,664) rotate(-45)" textLength="100">2025-09</text>
</g>
<rect x="370" y="793" width="50" height="9" fill="#5b9bd5"/>
<text class="t" x="425" y="806" font-size="25" textLength="315" lengthAdjust="spacingAndGlyphs">产量:碳酸钠(纯碱):当月值</text>
<line x1="800" y1="797" x2="855" y2="797" stroke="#ed7d31" stroke-width="7"/>
<text class="t" x="857" y="806" font-size="25" textLength="338" lengthAdjust="spacingAndGlyphs">产量:碳酸钠(纯碱):当月同比</text>
</g>

<!-- ============ CHART 6 ============ -->
<g transform="translate(590,860) scale(0.333333)">
<text class="ttl" x="690" y="78" font-size="36" textLength="182" lengthAdjust="spacingAndGlyphs">纯碱5-9价差</text>
<line x1="690" y1="87" x2="872" y2="87" stroke="#333" stroke-width="2.5"/>
<g class="gl">
<line x1="192" y1="125" x2="1357" y2="125"/><line x1="192" y1="176.25" x2="1357" y2="176.25"/><line x1="192" y1="227.5" x2="1357" y2="227.5"/><line x1="192" y1="278.75" x2="1357" y2="278.75"/><line x1="192" y1="330" x2="1357" y2="330"/><line x1="192" y1="381.25" x2="1357" y2="381.25"/><line x1="192" y1="432.5" x2="1357" y2="432.5"/><line x1="192" y1="483.75" x2="1357" y2="483.75"/><line x1="192" y1="535" x2="1357" y2="535" stroke="#bfbfbf"/>
</g>
<g class="t" font-size="24" text-anchor="end">
<text x="162" y="133">4000</text><text x="162" y="184">3500</text><text x="162" y="236">3000</text><text x="162" y="287">2500</text><text x="162" y="338">2000</text><text x="162" y="389">1500</text><text x="162" y="441">1000</text><text x="162" y="492">500</text><text x="162" y="543">0</text>
</g>
<g class="t" font-size="24">
<text x="1375" y="133">1000</text><text x="1375" y="192">500</text><text x="1375" y="250">0</text><text x="1375" y="309">-500</text><text x="1375" y="367">-1000</text><text x="1375" y="426">-1500</text><text x="1375" y="484">-2000</text><text x="1375" y="543">-2500</text>
</g>
<g transform="translate(0,242) scale(1,-0.11714)">
<polygon fill="#a5a5a5" points="192,0 192,120 230,150 245,250 255,440 260,375 280,380 300,530 310,440 330,450 350,460 370,450 390,470 410,546 420,400 425,230 428,-154 440,-196 460,-240 480,-270 490,-410 500,-495 510,-540 515,-600 520,-500 525,-420 530,-750 535,-1350 540,-1520 543,-1860 546,-1350 548,-150 550,0 590,-10 600,-30 610,0 620,100 630,140 640,100 660,60 670,0 680,80 700,50 710,0 720,-10 740,0 760,-20 780,-60 790,-130 800,-190 810,-150 820,-100 830,-70 840,-40 850,-20 860,0 870,30 880,60 895,150 905,100 915,60 918,-30 940,-60 950,-90 960,-60 980,-50 1000,-40 1050,-40 1100,-30 1150,-20 1160,10 1200,20 1210,60 1230,100 1250,130 1270,150 1280,150 1283,-20 1300,-40 1357,-40 1357,0"/>
</g>
<g transform="translate(0,535) scale(1,-0.1025)">
<polyline class="ln" vector-effect="non-scaling-stroke" stroke="#5b9bd5" stroke-width="2" points="192,2100 200,2200 210,2150 225,2050 235,2200 250,2500 265,2750 280,2750 290,2850 300,2950 310,3000 320,2950 335,2900 350,2950 360,2850 370,2800 385,2850 395,2700 405,2550 415,2350 425,2100 430,1400 440,1350 450,1450 465,1450 480,1480 495,1500 510,1500 518,1700 525,1850 535,1750 545,1700 555,1650 570,1650 585,1600 600,1700 615,1900 625,2150 633,2300 640,2150 655,2000 670,1900 680,2050 695,1850 710,1900 720,1850 735,1750 745,1900 760,1850 775,2150 790,2200 800,2100 815,2050 830,2000 845,1900 860,1800 875,1700 890,1550 905,1400 915,1350 925,1600 935,1700 945,1600 960,1650 980,1600 1000,1550 1020,1500 1045,1500 1060,1450 1080,1500 1100,1420 1120,1350 1140,1300 1160,1300 1180,1230 1200,1200 1215,1250 1225,1350 1230,1500 1240,1400 1260,1380 1280,1370 1300,1380 1320,1350 1340,1300 1357,1250"/>
<polyline class="ln" vector-effect="non-scaling-stroke" stroke="#ed7d31" stroke-width="2" points="192,1950 200,2000 215,1950 225,1800 240,1950 255,2250 270,2350 290,2400 305,2500 320,2550 335,2500 350,2550 365,2400 375,2450 390,2300 405,2150 420,2000 430,1600 440,1650 460,1650 480,1700 490,1850 500,2000 510,2050 515,2100 520,2500 528,2900 535,3100 540,3500 545,3500 548,1700 560,1650 580,1650 600,1700 615,1850 625,2050 633,2250 640,2100 660,1950 680,2000 695,1850 720,1850 740,1750 760,1900 775,2200 790,2250 800,2400 815,2150 830,2050 845,1900 860,1850 875,1700 890,1500 905,1300 915,1250 925,1500 935,1800 945,1700 960,1700 980,1650 1000,1600 1020,1500 1045,1520 1060,1480 1080,1550 1100,1450 1120,1370 1140,1300 1160,1280 1180,1200 1200,1170 1215,1200 1230,1300 1240,1250 1260,1180 1275,1150 1282,1420 1300,1400 1320,1380 1340,1330 1357,1300"/>
</g>
<g class="t" font-size="22" text-anchor="end">
<text transform="translate(203,548) rotate(-90)" textLength="132">2022-09-27</text>
<text transform="translate(233.6,548) rotate(-90)" textLength="132">2022-10-27</text>
<text transform="translate(264.2,548) rotate(-90)" textLength="132">2022-11-27</text>
<text transform="translate(294.7,548) rotate(-90)" textLength="132">2022-12-27</text>
<text transform="translate(325.3,548) rotate(-90)" textLength="132">2023-01-27</text>
<text transform="translate(355.9,548) rotate(-90)" textLength="132">2023-02-27</text>
<text transform="translate(386.5,548) rotate(-90)" textLength="132">2023-03-27</text>
<text transform="translate(417.1,548) rotate(-90)" textLength="132">2023-04-27</text>
<text transform="translate(447.6,548) rotate(-90)" textLength="132">2023-05-27</text>
<text transform="translate(478.2,548) rotate(-90)" textLength="132">2023-06-27</text>
<text transform="translate(508.8,548) rotate(-90)" textLength="132">2023-07-27</text>
<text transform="translate(539.4,548) rotate(-90)" textLength="132">2023-08-27</text>
<text transform="translate(570,548) rotate(-90)" textLength="132">2023-09-27</text>
<text transform="translate(600.5,548) rotate(-90)" textLength="132">2023-10-27</text>
<text transform="translate(631.1,548) rotate(-90)" textLength="132">2023-11-27</text>
<text transform="translate(661.7,548) rotate(-90)" textLength="132">2023-12-27</text>
<text transform="translate(692.3,548) rotate(-90)" textLength="132">2024-01-27</text>
<text transform="translate(722.9,548) rotate(-90)" textLength="132">2024-02-27</text>
<text transform="translate(753.4,548) rotate(-90)" textLength="132">2024-03-27</text>
<text transform="translate(784,548) rotate(-90)" textLength="132">2024-04-27</text>
<text transform="translate(814.6,548) rotate(-90)" textLength="132">2024-05-27</text>
<text transform="translate(845.2,548) rotate(-90)" textLength="132">2024-06-27</text>
<text transform="translate(875.8,548) rotate(-90)" textLength="132">2024-07-27</text>
<text transform="translate(906.3,548) rotate(-90)" textLength="132">2024-08-27</text>
<text transform="translate(936.9,548) rotate(-90)" textLength="132">2024-09-27</text>
<text transform="translate(967.5,548) rotate(-90)" textLength="132">2024-10-27</text>
<text transform="translate(998.1,548) rotate(-90)" textLength="132">2024-11-27</text>
<text transform="translate(1028.7,548) rotate(-90)" textLength="132">2024-12-27</text>
<text transform="translate(1059.2,548) rotate(-90)" textLength="132">2025-01-27</text>
<text transform="translate(1089.8,548) rotate(-90)" textLength="132">2025-02-27</text>
<text transform="translate(1120.4,548) rotate(-90)" textLength="132">2025-03-27</text>
<text transform="translate(1151,548) rotate(-90)" textLength="132">2025-04-27</text>
<text transform="translate(1181.6,548) rotate(-90)" textLength="132">2025-05-27</text>
<text transform="translate(1212.1,548) rotate(-90)" textLength="132">2025-06-27</text>
<text transform="translate(1242.7,548) rotate(-90)" textLength="132">2025-07-27</text>
<text transform="translate(1273.3,548) rotate(-90)" textLength="132">2025-08-27</text>
<text transform="translate(1303.9,548) rotate(-90)" textLength="132">2025-09-27</text>
<text transform="translate(1334.5,548) rotate(-90)" textLength="132">2025-10-27</text>
<text transform="translate(1365,548) rotate(-90)" textLength="132">2025-11-27</text>
</g>
<rect x="420" y="713" width="45" height="14" fill="#a5a5a5"/>
<text class="t" x="470" y="728" font-size="24" textLength="680" lengthAdjust="spacingAndGlyphs">期货收盘价(5月交割连续):纯碱:-期货收盘价(9月交割连续):纯碱</text>
<line x1="420" y1="763" x2="465" y2="763" stroke="#5b9bd5" stroke-width="6"/>
<text class="t" x="470" y="771" font-size="24" textLength="330" lengthAdjust="spacingAndGlyphs">期货收盘价(5月交割连续):纯碱</text>
<line x1="420" y1="805" x2="465" y2="805" stroke="#ed7d31" stroke-width="6"/>
<text class="t" x="470" y="813" font-size="24" textLength="330" lengthAdjust="spacingAndGlyphs">期货收盘价(9月交割连续):纯碱</text>
</g>

<!-- ============ CHART 7 ============ -->
<g transform="translate(80,1215) scale(0.333333)">
<text class="ttl" x="690" y="100" font-size="36" textLength="183" lengthAdjust="spacingAndGlyphs">汽车用玻璃</text>
<line x1="690" y1="109" x2="873" y2="109" stroke="#333" stroke-width="2.5"/>
<g class="gl">
<line x1="193" y1="152" x2="1330" y2="152"/><line x1="193" y1="215.5" x2="1330" y2="215.5"/><line x1="193" y1="279" x2="1330" y2="279"/><line x1="193" y1="342.5" x2="1330" y2="342.5"/><line x1="193" y1="406" x2="1330" y2="406"/><line x1="193" y1="469.5" x2="1330" y2="469.5"/><line x1="193" y1="533" x2="1330" y2="533"/><line x1="193" y1="596.5" x2="1330" y2="596.5"/><line x1="193" y1="660" x2="1330" y2="660" stroke="#bfbfbf"/>
</g>
<g class="t" font-size="26" text-anchor="end">
<text x="160" y="161">400</text><text x="160" y="224">350</text><text x="160" y="288">300</text><text x="160" y="351">250</text><text x="160" y="415">200</text><text x="160" y="478">150</text><text x="160" y="542">100</text><text x="160" y="605">50</text><text x="160" y="669">0</text>
</g>
<g class="t" font-size="26">
<text x="1352" y="161">80.00</text><text x="1352" y="233">60.00</text><text x="1352" y="306">40.00</text><text x="1352" y="378">20.00</text><text x="1352" y="451">0.00</text><text x="1352" y="523">-20.00</text><text x="1352" y="596">-40.00</text><text x="1352" y="669">-60.00</text>
</g>
<g transform="translate(193,660) scale(27.07,-1.27)">
<polyline class="ln" vector-effect="non-scaling-stroke" stroke="#5b9bd5" stroke-width="2.3" points="0,128 1,195 2,258 3,245 4,242 5,275 6,255 7,242 8,248 9,125 10,0 11,262 12,202 13,230 14,257 15,232 16,250 17,284 18,278 19,295 20,303 21,150 22,0 23,280 24,235 25,236 26,262 27,230 28,250 29,283 30,295 31,345 32,350 33,175 34,0 35,305 36,260 37,265 38,280 39,250 40,272 41,322 42,328"/>
</g>
<g transform="translate(193,442) scale(27.07,-3.6285)">
<polyline class="ln" vector-effect="non-scaling-stroke" stroke="#ed7d31" stroke-width="2.3" points="0,-43 1,-5 2,28 3,33 4,39 5,25 6,8 7,-10 8,-16 9,-15 10,-13 11,12 12,60 13,22 14,1 15,-3 16,5 17,4 18,9 19,24 20,25 21,15 22,5 23,6 24,16 25,2 26,2 27,-2 28,-2 29,-1 30,5 31,16 32,16 33,15 34,14 35,9 36,9 37,12 38,9 39,9 40,11 41,15 42,11"/>
</g>
<g class="t" font-size="27" text-anchor="end">
<text transform="translate(203,678) rotate(-45)" textLength="105">2022-04</text>
<text transform="translate(257.1,678) rotate(-45)" textLength="105">2022-06</text>
<text transform="translate(311.3,678) rotate(-45)" textLength="105">2022-08</text>
<text transform="translate(365.4,678) rotate(-45)" textLength="105">2022-10</text>
<text transform="translate(419.6,678) rotate(-45)" textLength="105">2022-12</text>
<text transform="translate(473.7,678) rotate(-45)" textLength="105">2023-02</text>
<text transform="translate(527.8,678) rotate(-45)" textLength="105">2023-04</text>
<text transform="translate(582,678) rotate(-45)" textLength="105">2023-06</text>
<text transform="translate(636.1,678) rotate(-45)" textLength="105">2023-08</text>
<text transform="translate(690.3,678) rotate(-45)" textLength="105">2023-10</text>
<text transform="translate(744.4,678) rotate(-45)" textLength="105">2023-12</text>
<text transform="translate(798.5,678) rotate(-45)" textLength="105">2024-02</text>
<text transform="translate(852.7,678) rotate(-45)" textLength="105">2024-04</text>
<text transform="translate(906.8,678) rotate(-45)" textLength="105">2024-06</text>
<text transform="translate(961,678) rotate(-45)" textLength="105">2024-08</text>
<text transform="translate(1015.1,678) rotate(-45)" textLength="105">2024-10</text>
<text transform="translate(1069.2,678) rotate(-45)" textLength="105">2024-12</text>
<text transform="translate(1123.4,678) rotate(-45)" textLength="105">2025-02</text>
<text transform="translate(1177.5,678) rotate(-45)" textLength="105">2025-04</text>
<text transform="translate(1231.7,678) rotate(-45)" textLength="105">2025-06</text>
<text transform="translate(1285.8,678) rotate(-45)" textLength="105">2025-08</text>
<text transform="translate(1340,678) rotate(-45)" textLength="105">2025-10</text>
</g>
<line x1="485" y1="812" x2="535" y2="812" stroke="#5b9bd5" stroke-width="7"/>
<text class="t" x="540" y="821" font-size="26" textLength="210" lengthAdjust="spacingAndGlyphs">产量:汽车:当月值</text>
<line x1="793" y1="812" x2="845" y2="812" stroke="#ed7d31" stroke-width="7"/>
<text class="t" x="850" y="821" font-size="26" textLength="236" lengthAdjust="spacingAndGlyphs">产量:汽车:当月同比</text>
</g>

<!-- ============ CHART 8 ============ -->
<g transform="translate(590,1215) scale(0.333333)">
<text class="ttl" x="693" y="120" font-size="36" textLength="177" lengthAdjust="spacingAndGlyphs">建筑用玻璃</text>
<line x1="693" y1="129" x2="870" y2="129" stroke="#333" stroke-width="2.5"/>
<g class="gl">
<line x1="190" y1="172" x2="1337" y2="172"/><line x1="190" y1="236.5" x2="1337" y2="236.5"/><line x1="190" y1="301" x2="1337" y2="301"/><line x1="190" y1="365.5" x2="1337" y2="365.5"/><line x1="190" y1="430" x2="1337" y2="430"/><line x1="190" y1="494.5" x2="1337" y2="494.5"/><line x1="190" y1="559" x2="1337" y2="559"/><line x1="190" y1="623.5" x2="1337" y2="623.5"/><line x1="190" y1="688" x2="1337" y2="688" stroke="#bfbfbf"/>
</g>
<g class="t" font-size="26" text-anchor="end">
<text x="158" y="181">102</text><text x="158" y="245">100</text><text x="158" y="310">98</text><text x="158" y="374">96</text><text x="158" y="439">94</text><text x="158" y="503">92</text><text x="158" y="568">90</text><text x="158" y="632">88</text><text x="158" y="697">86</text>
</g>
<g class="t" font-size="26">
<text x="1355" y="181">30.00</text><text x="1355" y="245">20.00</text><text x="1355" y="310">10.00</text><text x="1355" y="374">0.00</text><text x="1355" y="439">-10.00</text><text x="1355" y="503">-20.00</text><text x="1355" y="568">-30.00</text><text x="1355" y="632">-40.00</text><text x="1355" y="697">-50.00</text>
</g>
<g transform="translate(190,3461.5) scale(24.4,-32.25)">
<polyline class="ln" vector-effect="non-scaling-stroke" stroke="#5b9bd5" stroke-width="2.3" points="0,100.5 1,100.3 2,96.9 3,96.9 4,96.6 5,95.9 6,95.6 7,95.4 8,95.2 9,95.0 10,94.8 11,94.6 12,94.4 13,94.35 14,94.5 15,94.6 16,94.65 17,94.7 18,94.5 19,94.0 20,93.7 21,93.5 22,93.35 23,93.3 24,93.3 25,93.25 26,93.2 27,92.2 28,91.95 29,91.9 30,91.9 31,91.95 32,92.0 33,92.1 34,92.2 35,92.3 36,92.4 37,92.5 38,92.55 39,93.4 40,93.8 41,93.9 42,93.8 43,93.7 44,93.55 45,93.3 46,93.0 47,92.5"/>
</g>
<g transform="translate(190,365.5) scale(24.4,-6.45)">
<polyline class="ln" vector-effect="non-scaling-stroke" stroke="#ed7d31" stroke-width="2.3" points="0,-9 1,-11.5 2,0 3,-12 4,-17 5,-26 6,-31 7,-35 8,-37 9,-38 10,-38 11,-39 12,-39.5 13,-40 14,0 15,-10 16,-19 17,-21 18,-23 19,-24.5 20,-24.7 21,-24.5 22,-23.5 23,-23 24,-20.5 25,-20 26,0 27,-29.5 28,-27.5 29,-24.5 30,-24 31,-23.5 32,-23 33,-22.5 34,-22 35,-22.5 36,-23 37,-23 38,0 39,-29.5 40,-24.5 41,-23.5 42,-22.5 43,-20 44,-19.5 45,-19.5 46,-19 47,-20"/>
<polyline class="ln" vector-effect="non-scaling-stroke" stroke="#a5a5a5" stroke-width="2.3" points="0,16 1,11 2,1 3,-10 4,-11.5 5,-12 6,-16 7,-21.5 8,-23 9,-21 10,-20 11,-19 12,-19 13,-15 14,0 15,9 16,15.5 17,19 18,19.5 19,19 20,20.5 21,19.5 22,20 23,19 24,18 25,17 26,0 27,-20 28,-20 29,-20 30,-19.5 31,-21 32,-21.5 33,-23.5 34,-24 35,-24 36,-26 37,-28 38,0 39,-15 40,-14 41,-17 42,-17 43,-15 44,-16.5 45,-16.5 46,-15 47,-17"/>
</g>
<g class="t" font-size="27" text-anchor="end">
<text transform="translate(200,706) rotate(-45)" textLength="110">2021-11</text>
<text transform="translate(248.8,706) rotate(-45)" textLength="110">2022-01</text>
<text transform="translate(297.6,706) rotate(-45)" textLength="110">2022-03</text>
<text transform="translate(346.4,706) rotate(-45)" textLength="110">2022-05</text>
<text transform="translate(395.2,706) rotate(-45)" textLength="110">2022-07</text>
<text transform="translate(444,706) rotate(-45)" textLength="110">2022-09</text>
<text transform="translate(492.8,706) rotate(-45)" textLength="110">2022-11</text>
<text transform="translate(541.6,706) rotate(-45)" textLength="110">2023-01</text>
<text transform="translate(590.4,706) rotate(-45)" textLength="110">2023-03</text>
<text transform="translate(639.2,706) rotate(-45)" textLength="110">2023-05</text>
<text transform="translate(688,706) rotate(-45)" textLength="110">2023-07</text>
<text transform="translate(736.8,706) rotate(-45)" textLength="110">2023-09</text>
<text transform="translate(785.6,706) rotate(-45)" textLength="110">2023-11</text>
<text transform="translate(834.4,706) rotate(-45)" textLength="110">2024-01</text>
<text transform="translate(883.2,706) rotate(-45)" textLength="110">2024-03</text>
<text transform="translate(932,706) rotate(-45)" textLength="110">2024-05</text>
<text transform="translate(980.8,706) rotate(-45)" textLength="110">2024-07</text>
<text transform="translate(1029.6,706) rotate(-45)" textLength="110">2024-09</text>
<text transform="translate(1078.4,706) rotate(-45)" textLength="110">2024-11</text>
<text transform="translate(1127.2,706) rotate(-45)" textLength="110">2025-01</text>
<text transform="translate(1176,706) rotate(-45)" textLength="110">2025-03</text>
<text transform="translate(1224.8,706) rotate(-45)" textLength="110">2025-05</text>
<text transform="translate(1273.6,706) rotate(-45)" textLength="110">2025-07</text>
<text transform="translate(1322.4,706) rotate(-45)" textLength="110">2025-09</text>
</g>
<line x1="300" y1="838" x2="350" y2="838" stroke="#5b9bd5" stroke-width="7"/>
<text class="t" x="352" y="847" font-size="26" textLength="152" lengthAdjust="spacingAndGlyphs">国房景气指数</text>
<line x1="557" y1="838" x2="605" y2="838" stroke="#ed7d31" stroke-width="7"/>
<text class="t" x="608" y="847" font-size="26" textLength="292" lengthAdjust="spacingAndGlyphs">房屋新开工面积:累计同比</text>
<line x1="953" y1="838" x2="1000" y2="838" stroke="#a5a5a5" stroke-width="7"/>
<text class="t" x="1005" y="847" font-size="26" textLength="268" lengthAdjust="spacingAndGlyphs">房屋竣工面积:累计同比</text>
</g>

</svg>
</body></html>
